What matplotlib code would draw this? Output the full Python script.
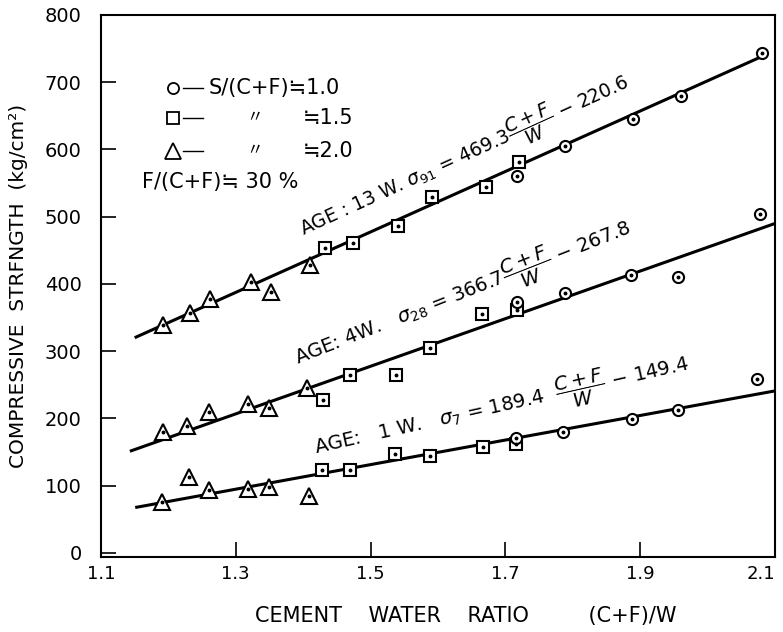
import matplotlib
matplotlib.use("Agg")
import matplotlib.pyplot as plt

# ---- data ----
# AGE 13 W
w13_tri_x = [1.192, 1.232, 1.262, 1.323, 1.352, 1.410]
w13_tri_y = [339, 357, 377, 403, 388, 428]
w13_sq_x = [1.432, 1.474, 1.541, 1.591, 1.671, 1.720]
w13_sq_y = [453, 461, 486, 530, 544, 581]
w13_ci_x = [1.717, 1.788, 1.889, 1.960, 2.081]
w13_ci_y = [560, 605, 645, 679, 744]
w13_line_x = [1.152, 2.082]
w13_line_y = [321, 739]

# AGE 4 W
w4_tri_x = [1.192, 1.228, 1.260, 1.318, 1.349, 1.406]
w4_tri_y = [180, 189, 210, 221, 216, 245]
w4_sq_x = [1.429, 1.469, 1.538, 1.588, 1.665, 1.717]
w4_sq_y = [227, 264, 264, 305, 355, 362]
w4_ci_x = [1.717, 1.788, 1.886, 1.956, 2.078]
w4_ci_y = [373, 386, 413, 410, 504]
w4_line_x = [1.145, 2.100]
w4_line_y = [152, 490]

# AGE 1 W
w1_tri_x = [1.190, 1.231, 1.260, 1.318, 1.349, 1.409]
w1_tri_y = [76, 113, 94, 95, 98, 85]
w1_sq_x = [1.428, 1.469, 1.536, 1.588, 1.667, 1.716]
w1_sq_y = [124, 124, 147, 144, 158, 162]
w1_ci_x = [1.716, 1.785, 1.888, 1.956, 2.073]
w1_ci_y = [171, 180, 199, 212, 259]
w1_line_x = [1.153, 2.100]
w1_line_y = [68, 241]

x_ticks = [1.1, 1.3, 1.5, 1.7, 1.9, 2.1]
y_ticks = [0, 100, 200, 300, 400, 500, 600, 700, 800]

plt.rcParams['font.family'] = ['DejaVu Sans']
plt.rcParams['mathtext.fontset'] = 'dejavusans'

fig = plt.figure(figsize=(7.83, 6.32), dpi=100)
ax = fig.add_axes([101/783, 1-557/632, (775-101)/783, (557-15)/632])
ax.set_xlim(1.1, 2.1)
ax.set_ylim(-6, 800)

def pts(x, y, marker, ms):
    ax.plot(x, y, linestyle='none', marker=marker, ms=ms, mfc='white',
            mec='black', mew=1.5, zorder=3)
    ax.plot(x, y, linestyle='none', marker='o', ms=1.8, color='black', zorder=4)

for lx, ly in [(w13_line_x, w13_line_y), (w4_line_x, w4_line_y), (w1_line_x, w1_line_y)]:
    ax.plot(lx, ly, color='black', lw=2.2, zorder=2)

pts(w13_tri_x, w13_tri_y, '^', 11.5)
pts(w13_sq_x, w13_sq_y, 's', 8.5)
pts(w13_ci_x, w13_ci_y, 'o', 8)
pts(w4_tri_x, w4_tri_y, '^', 11.5)
pts(w4_sq_x, w4_sq_y, 's', 8.5)
pts(w4_ci_x, w4_ci_y, 'o', 8)
pts(w1_tri_x, w1_tri_y, '^', 11.5)
pts(w1_sq_x, w1_sq_y, 's', 8.5)
pts(w1_ci_x, w1_ci_y, 'o', 8)

# ticks
ax.set_xticks(x_ticks)
ax.set_xticklabels([f"{v:.1f}" for v in x_ticks])
ax.set_yticks(y_ticks)
ax.set_yticklabels([str(v) for v in y_ticks])
ax.tick_params(axis='both', direction='in', length=11, width=1.2)
ax.tick_params(axis='y', pad=14, labelsize=14)
ax.tick_params(axis='x', pad=6, labelsize=13)
ax.get_xticklabels()[-1].set_ha('right')
for s in ax.spines.values():
    s.set_linewidth(1.5)

ax.set_ylabel("COMPRESSIVE  STRFNGTH  (kg/cm²)", fontsize=14.5, labelpad=12)
fig.text(466/783, 1-616/632, "CEMENT    WATER    RATIO         (C+F)/W",
         fontsize=15, ha='center', va='center')

# legend (manual)
tr = ax.transAxes
leg_rows = [('o', 8, 0.865), ('s', 8.5, 0.810), ('^', 11.5, 0.749)]
for mk, ms, yy in leg_rows:
    ax.plot([0.107], [yy], transform=tr, marker=mk, ms=ms, mfc='white', mec='black',
            mew=1.3, linestyle='none', clip_on=False)
    ax.plot([0.122, 0.152], [yy, yy], transform=tr, color='black', lw=1.0)
ax.text(0.160, 0.865, "S/(C+F)≒1.0", transform=tr, fontsize=15, va='center')
ax.text(0.215, 0.810, "〃", transform=tr, fontsize=12, va='center',
        family=['Noto Sans CJK JP', 'DejaVu Sans'])
ax.text(0.300, 0.810, "≒1.5", transform=tr, fontsize=15, va='center')
ax.text(0.215, 0.749, "〃", transform=tr, fontsize=12, va='center',
        family=['Noto Sans CJK JP', 'DejaVu Sans'])
ax.text(0.300, 0.749, "≒2.0", transform=tr, fontsize=15, va='center')
ax.text(0.061, 0.692, "F/(C+F)≒ 30 %", transform=tr, fontsize=15, va='center')

# equations along the lines
ax.text(1.640, 590, r"AGE : 13 W. $\sigma_{91}$ = 469.3$\dfrac{C+F}{W}$ − 220.6",
        rotation=24.5, ha='center', va='center', fontsize=13.5, rotation_mode='anchor')
ax.text(1.637, 384, r"AGE: 4W.   $\sigma_{28}$ = 366.7$\dfrac{C+F}{W}$ − 267.8",
        rotation=21.5, ha='center', va='center', fontsize=14, rotation_mode='anchor')
ax.text(1.695, 216, r"AGE:   1 W.   $\sigma_{7}$ = 189.4  $\dfrac{C+F}{W}$ − 149.4",
        rotation=12.7, ha='center', va='center', fontsize=14, rotation_mode='anchor')

fig.savefig("out.png", dpi=100)
